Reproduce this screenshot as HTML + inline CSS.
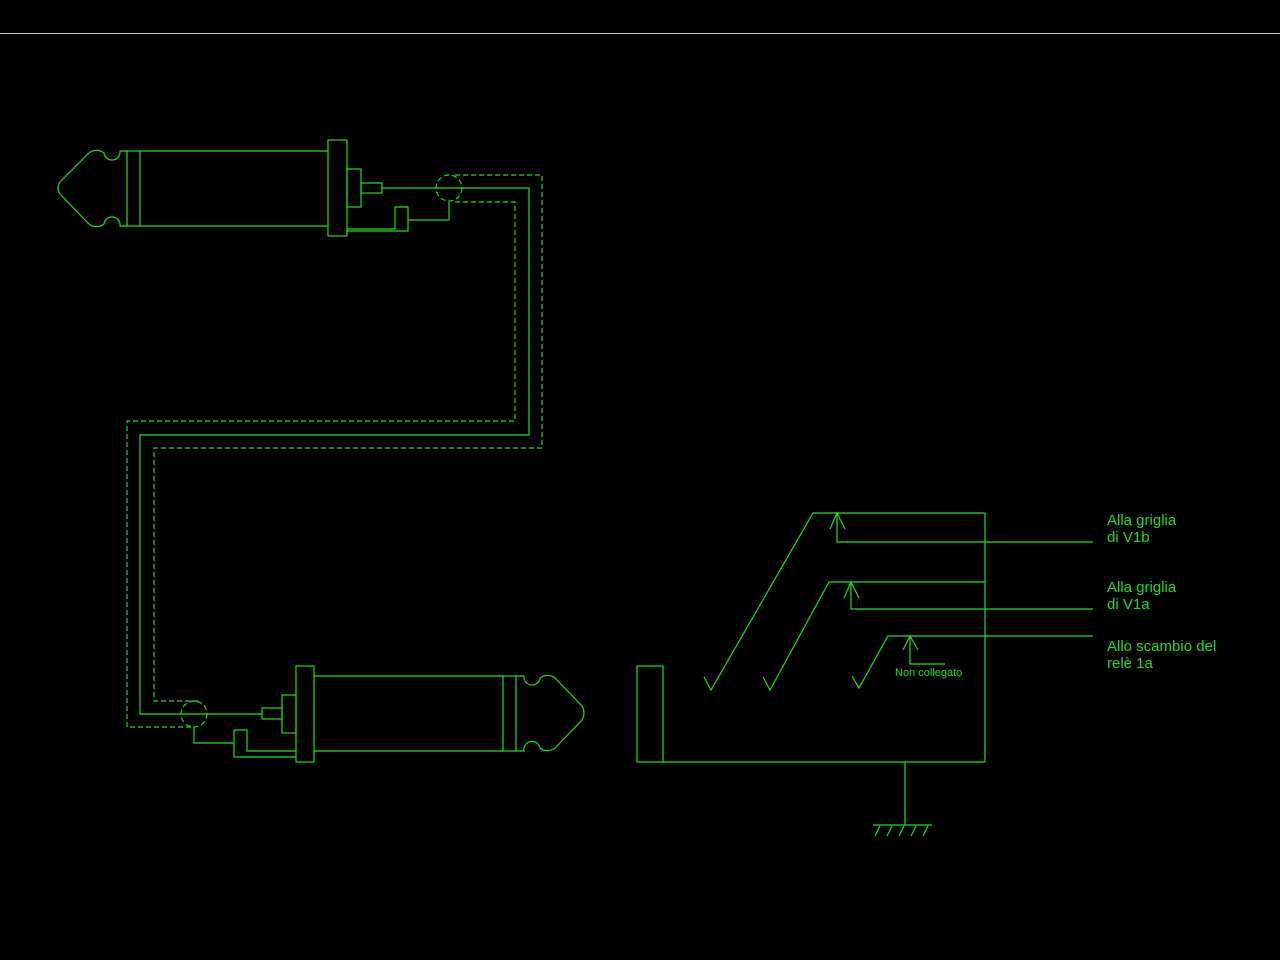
<!DOCTYPE html>
<html><head><style>body{margin:0;background:#000}svg{display:block}</style></head><body>
<svg width="1280" height="960" xmlns="http://www.w3.org/2000/svg">
<rect width="1280" height="960" fill="#000"/>
<line x1="0" y1="33.5" x2="1280" y2="33.5" stroke="#c8c8c8" stroke-width="1"/>
<g fill="none" stroke="#22dd22" stroke-width="1.2">
<path d="M127,151 L120,151 A7,7 0 0 1 104,153 A12,12 0 0 0 87,155 L60,182 Q56,188 60,194 L87,222 A12,12 0 0 0 104,224 A7,7 0 0 1 120,226 L127,226"/>
<rect x="127" y="151" width="13" height="75"/>
<line x1="140" y1="151" x2="328" y2="151"/><line x1="140" y1="226" x2="328" y2="226"/>
<rect x="328" y="140" width="19" height="96"/>
<rect x="347" y="169" width="14" height="38"/>
<rect x="361" y="183" width="21" height="10"/>
<polyline points="382,188 529,188 529,435 140,435 140,714 262,714"/>
<polyline points="449,202 449,220 408,220 408,207 395,207 395,229 347,229"/>
<polyline points="408,220 408,231 347,231"/>
<g stroke-dasharray="5,3">
<circle cx="449" cy="188" r="13"/>
<polyline points="455,175 542,175 542,448 154,448 154,701 200,701"/>
<polyline points="455,202 515,202 515,421 127,421 127,727 194,727"/>
<circle cx="194" cy="714" r="13"/>
</g>
<rect x="296" y="666" width="18" height="96"/>
<line x1="314" y1="676" x2="503" y2="676"/><line x1="314" y1="751" x2="503" y2="751"/>
<rect x="503" y="676" width="13" height="75"/>
<path d="M516,676 L524,676 A7,7 0 0 0 540,678 A12,12 0 0 1 557,680 L582,706 Q586,713 582,720 L557,746 A12,12 0 0 1 540,748 A7,7 0 0 0 524,751 L516,751"/>
<rect x="282" y="695" width="14" height="38"/>
<rect x="262" y="708" width="20" height="11"/>
<polyline points="194,727 194,743 234,743 234,730 247,730 247,751 296,751"/>
<polyline points="234,743 234,757 296,757"/>
<rect x="637" y="666" width="26" height="96"/>
<line x1="663" y1="762" x2="985" y2="762"/>
<line x1="985" y1="513" x2="985" y2="762"/>
<line x1="905" y1="762" x2="905" y2="825"/>
<line x1="873" y1="825" x2="932" y2="825"/>
<path d="M875,836 L880,826 M887,836 L892,826 M899,836 L904,826 M911,836 L916,826 M923,836 L928,826"/>
<polyline points="704,677 711,690 813,513 985,513"/>
<polyline points="837,513 837,542 1093,542"/>
<polyline points="830,529 837,513 845,529"/>
<polyline points="763,677 770,690 829,582 985,582"/>
<polyline points="851,582 851,609 1093,609"/>
<polyline points="844,598 851,582 859,598"/>
<polyline points="852,676 859,688 888,636 1093,636"/>
<polyline points="910,636 910,664 945,664"/>
<polyline points="903,650 910,636 918,650"/>
</g>
<g fill="#22dd22" font-family="Liberation Sans, sans-serif" font-size="15">
<text x="1107" y="525">Alla griglia</text><text x="1107" y="542">di V1b</text>
<text x="1107" y="592">Alla griglia</text><text x="1107" y="609">di V1a</text>
<text x="1107" y="651">Allo scambio del</text><text x="1107" y="668">relè 1a</text>
<text x="895" y="676" font-size="11">Non collegato</text>
</g>
</svg>
</body></html>
